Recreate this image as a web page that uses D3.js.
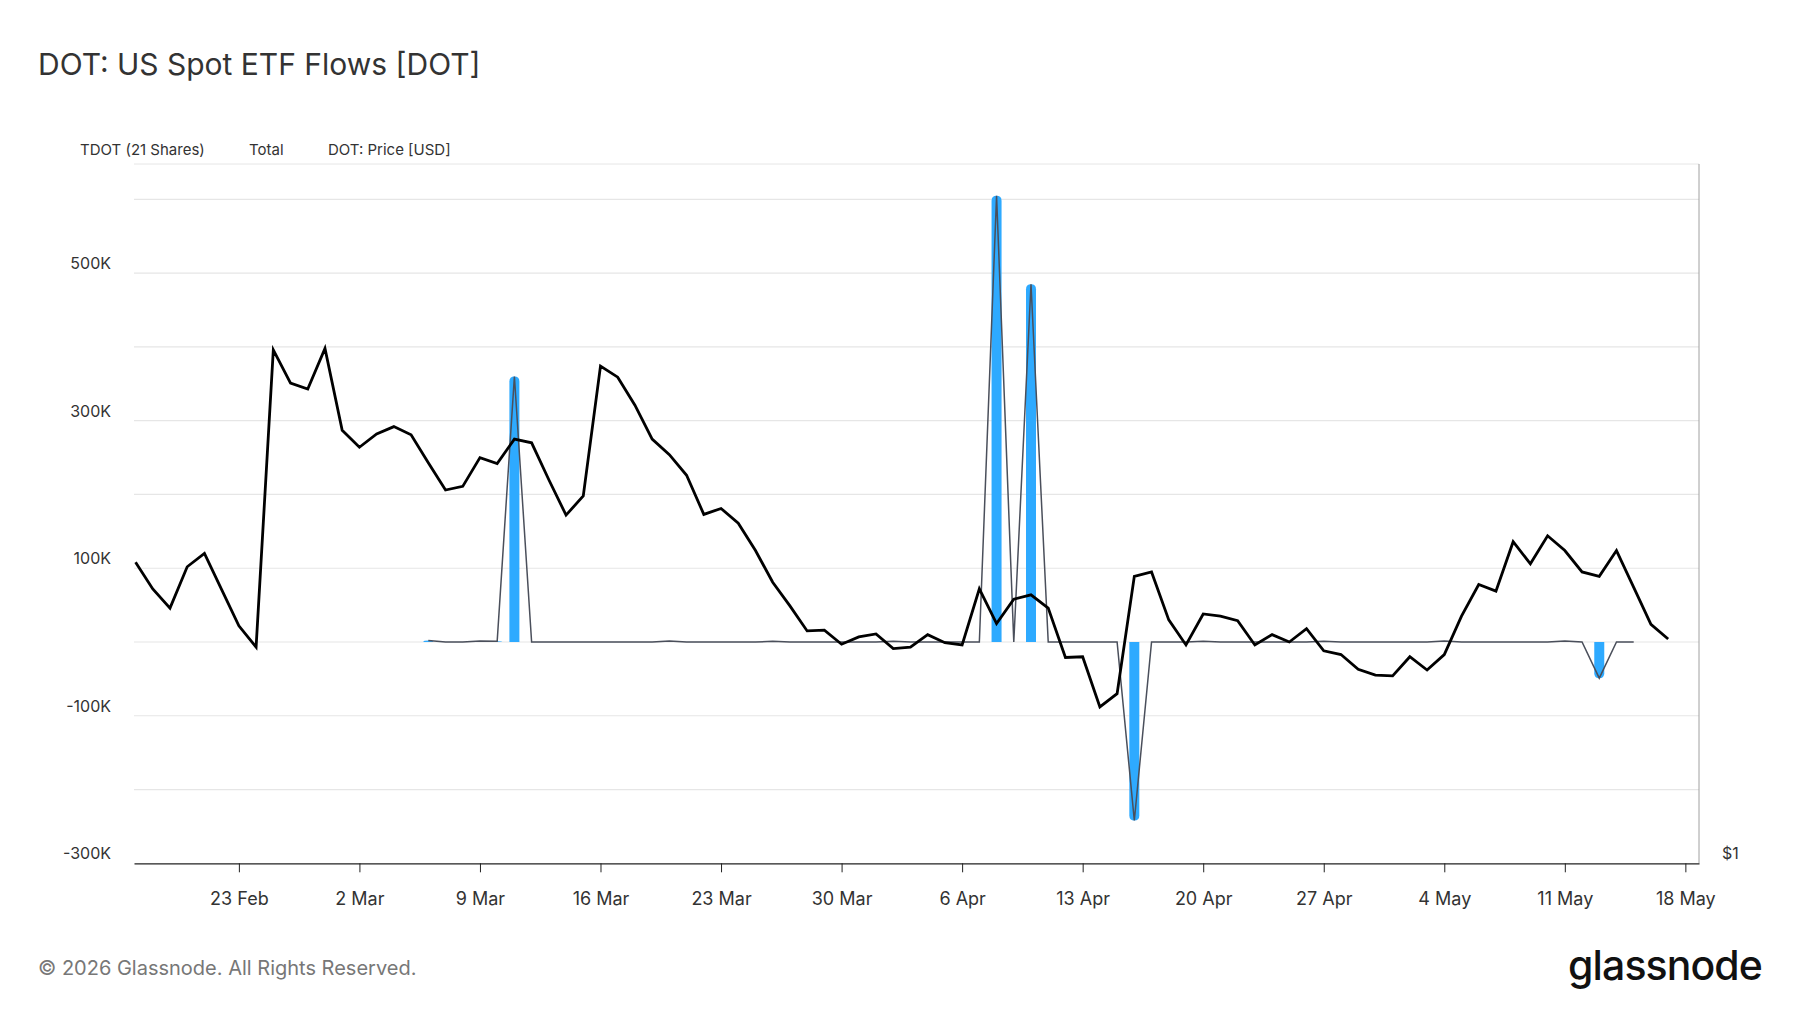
<!DOCTYPE html>
<html>
<head>
<meta charset="utf-8">
<script src="https://cdn.jsdelivr.net/npm/d3@7"></script>
<style>
  body { margin: 0; background: #fff; }
  svg { display: block; font-family: Inter, "Noto Sans", sans-serif; }
</style>
</head>
<body>
<div id="chart"></div>
<script>
// DOT price (USD), daily from 17 Feb 2026
const priceStart = '2026-02-17'
const price = [
  1.408, 1.372, 1.346, 1.402, 1.420, 1.371, 1.322, 1.293, 1.696, 1.651,
  1.643, 1.698, 1.587, 1.564, 1.582, 1.592, 1.581, 1.543, 1.506, 1.511,
  1.550, 1.542, 1.575, 1.570, 1.520, 1.472, 1.498, 1.674, 1.659, 1.621,
  1.575, 1.554, 1.526, 1.473, 1.481, 1.461, 1.424, 1.381, 1.349, 1.315,
  1.316, 1.297, 1.307, 1.311, 1.291, 1.293, 1.310, 1.299, 1.296, 1.372,
  1.325, 1.358, 1.364, 1.346, 1.279, 1.280, 1.212, 1.230, 1.389, 1.395,
  1.330, 1.296, 1.338, 1.335, 1.329, 1.296, 1.310, 1.300, 1.318, 1.288,
  1.283, 1.263, 1.255, 1.254, 1.280, 1.262, 1.283, 1.335, 1.378, 1.369,
  1.436, 1.406, 1.444, 1.424, 1.395, 1.389, 1.424, 1.374, 1.324, 1.304
]

// TDOT (21 Shares) flows in DOT, daily from 6 Mar 2026 (Total = TDOT)
const flowStart = '2026-03-06'
const flows = [
  2000, 0, 0, 1500, 1000, 360000, 0, 0, 0, 0,          // 6 Mar - 15 Mar
  0, 0, 0, 0, 1200, 0, 0, 0, 0, 0,                      // 16 Mar - 25 Mar
  1000, 0, 0, 0, 0, 0, 0, 1000, 0, 0,                   // 26 Mar - 4 Apr
  0, 0, 0, 605000, 0, 485000, 0, 0, 0, 0,               // 5 Apr - 14 Apr
  0, -242000, 0, 0, 0, 1000, 0, 0, 0, 0,                // 15 Apr - 24 Apr
  0, 0, 1000, 0, 0, 0, 0, 0, 0, 1200,                   // 25 Apr - 4 May
  0, 0, 0, 0, 0, 0, 1200, 0, -49000, 0,                 // 5 May - 14 May
  0                                                     // 15 May
]

const yLabelVals = [-300000, -100000, 100000, 300000, 500000]
const gridVals = [-200000, -100000, 0, 100000, 200000, 300000, 400000, 500000, 600000]
const xTickDates = ['2026-02-23', '2026-03-02', '2026-03-09', '2026-03-16', '2026-03-23',
  '2026-03-30', '2026-04-06', '2026-04-13', '2026-04-20', '2026-04-27',
  '2026-05-04', '2026-05-11', '2026-05-18']
const legendItems = ['TDOT (21 Shares)', 'Total', 'DOT: Price [USD]']

const width = 1800
const height = 1013
const plot = {left: 134, right: 1699, top: 164, bottom: 863.3}

const parse = d3.utcParse('%Y-%m-%d')

const x = d3.scaleUtc()
  .domain([new Date(Date.UTC(2026, 1, 16, 21, 50)), new Date(Date.UTC(2026, 4, 18, 19, 0))])
  .range([plot.left, plot.right])

const y = d3.scaleLinear()
  .domain([-300000, 648000])
  .range([plot.bottom, plot.top])

const yPrice = d3.scaleLinear()
  .domain([1, 1.9])
  .range([y(-300000), y(600000)])

const priceData = price.map((v, i) => ({date: d3.utcDay.offset(parse(priceStart), i), value: v}))
const flowData = flows.map((v, i) => ({date: d3.utcDay.offset(parse(flowStart), i), value: v}))

const svg = d3.create('svg')
  .attr('width', width)
  .attr('height', height)
  .attr('viewBox', [0, 0, width, height])

document.getElementById('chart').appendChild(svg.node())

// title
svg.append('text')
  .attr('x', 38).attr('y', 75)
  .attr('font-size', 30)
  .attr('fill', '#333')
  .text('DOT: US Spot ETF Flows [DOT]')

// legend (text only)
const legendX = [80, 249, 328]
svg.append('g')
  .selectAll('text')
  .data(legendItems)
  .join('text')
    .attr('x', (d, i) => legendX[i])
    .attr('y', 155)
    .attr('font-size', 15)
    .attr('fill', '#333')
    .text(d => d)

// top border + gridlines
svg.append('line')
  .attr('x1', plot.left).attr('x2', plot.right)
  .attr('y1', plot.top).attr('y2', plot.top)
  .attr('stroke', '#e6e6e6')

svg.append('g')
  .selectAll('line')
  .data(gridVals)
  .join('line')
    .attr('x1', plot.left).attr('x2', plot.right)
    .attr('y1', d => y(d)).attr('y2', d => y(d))
    .attr('stroke', '#e6e6e6')
    .attr('stroke-width', 1.2)

// right border
svg.append('line')
  .attr('x1', plot.right).attr('x2', plot.right)
  .attr('y1', plot.top).attr('y2', plot.bottom)
  .attr('stroke', '#a0a0a0')

// y labels
svg.append('g')
  .selectAll('text')
  .data(yLabelVals)
  .join('text')
    .attr('x', 111)
    .attr('y', d => y(d) - 4)
    .attr('text-anchor', 'end')
    .attr('font-size', 16)
    .attr('fill', '#333')
    .text(d => d3.format('~s')(d).replace('k', 'K').replace('−', '-'))

// price axis label
svg.append('text')
  .attr('x', 1722).attr('y', yPrice(1) - 4)
  .attr('font-size', 16)
  .attr('fill', '#333')
  .text('$1')

// x axis
const xAxis = d3.axisBottom(x)
  .tickValues(xTickDates.map(parse))
  .tickFormat(d3.utcFormat('%-d %b'))
  .tickSize(9)
  .tickSizeOuter(0)

const gx = svg.append('g')
  .attr('transform', `translate(0,${plot.bottom})`)
  .call(xAxis)
gx.select('.domain').attr('stroke', '#222').attr('stroke-width', 1.2)
gx.selectAll('.tick line').attr('stroke', '#222')
gx.selectAll('.tick text')
  .attr('font-size', 18)
  .attr('font-family', 'Inter, sans-serif')
  .attr('fill', '#333')
  .attr('y', 29)
  .attr('dy', '0.71em')

// bars with a rounded outer end
const barW = 10
const barPath = d => {
  const cx = x(d.date)
  const y0 = y(0)
  const y1 = y(d.value)
  const h = Math.abs(y0 - y1)
  const r = Math.min(barW / 2, h)
  const x0 = cx - barW / 2, x1 = cx + barW / 2
  if (d.value >= 0) {
    return `M${x0},${y0} L${x0},${y1 + r} Q${x0},${y1} ${cx},${y1} Q${x1},${y1} ${x1},${y1 + r} L${x1},${y0} Z`
  }
  return `M${x0},${y0} L${x0},${y1 - r} Q${x0},${y1} ${cx},${y1} Q${x1},${y1} ${x1},${y1 - r} L${x1},${y0} Z`
}

svg.append('g')
  .selectAll('path')
  .data(flowData.filter(d => d.value !== 0))
  .join('path')
    .attr('d', barPath)
    .attr('fill', '#2eaaff')

// total line
svg.append('path')
  .datum(flowData)
  .attr('fill', 'none')
  .attr('stroke', '#4a4f5b')
  .attr('stroke-width', 1.5)
  .attr('d', d3.line().x(d => x(d.date)).y(d => y(d.value)))

// price line
svg.append('path')
  .datum(priceData)
  .attr('fill', 'none')
  .attr('stroke', '#000')
  .attr('stroke-width', 2.8)
  .attr('stroke-linejoin', 'miter')
  .attr('d', d3.line().x(d => x(d.date)).y(d => yPrice(d.value)))

// footer
svg.append('text')
  .attr('x', 38).attr('y', 975)
  .attr('font-size', 20)
  .attr('fill', '#777')
  .text('© 2026 Glassnode. All Rights Reserved.')

svg.append('text')
  .attr('x', 1762).attr('y', 980)
  .attr('text-anchor', 'end')
  .attr('font-size', 41)
  .attr('font-weight', 500)
  .attr('letter-spacing', -0.9)
  .attr('fill', '#111')
  .text('glassnode')
</script>
</body>
</html>
